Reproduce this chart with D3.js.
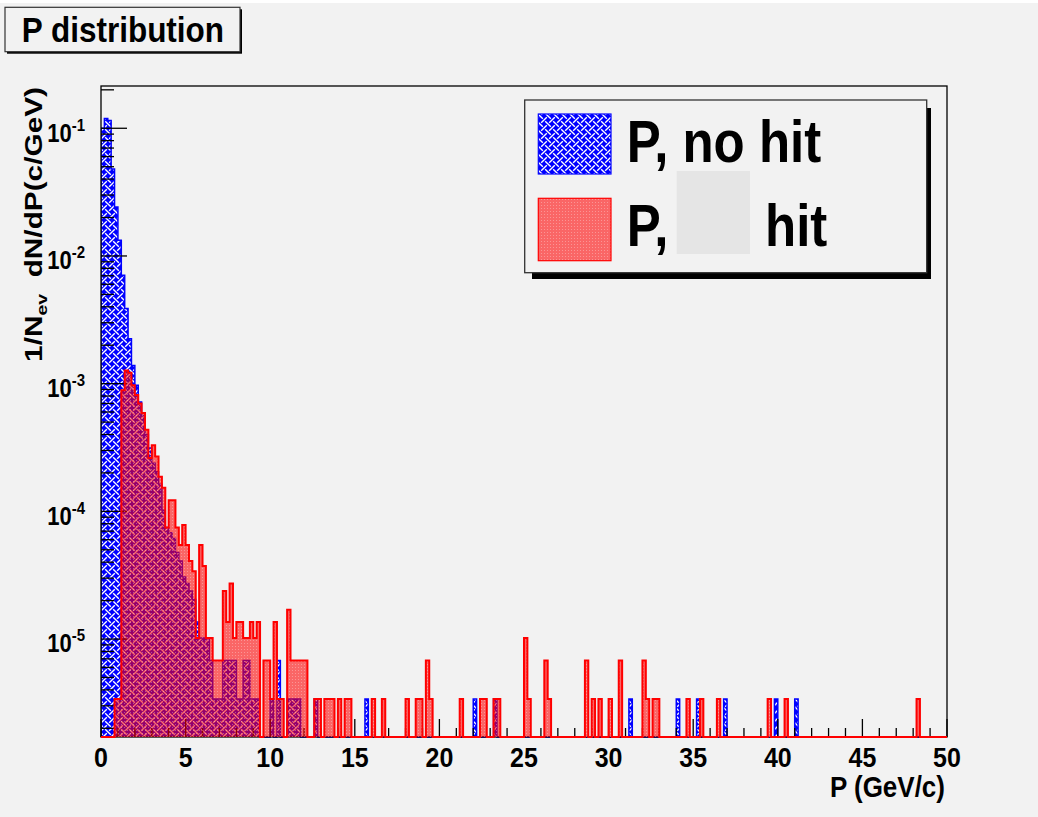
<!DOCTYPE html>
<html>
<head>
<meta charset="utf-8">
<script src="https://cdn.jsdelivr.net/npm/d3@7"></script>
<style>
html, body { margin: 0; padding: 0; background: #f2f2f2; }
svg { display: block; }
</style>
</head>
<body>
<svg id="chart" width="1038" height="817"></svg>
<script>
// ---------------- data ----------------
const binWidth = 0.2;                 // GeV per histogram bin
const xDomain = [0, 50];
const yDomain = [1.71e-6, 0.2143];

// [bin low edge (GeV), 1/Nev dN/dP]
const noHitBins = [
  [0.0, 0.10], [0.2, 0.119], [0.4, 0.115], [0.6, 0.048], [0.8, 0.0242],
  [1.0, 0.0133], [1.2, 0.00706], [1.4, 0.00387], [1.6, 0.00225], [1.8, 0.00139],
  [2.0, 0.00097], [2.2, 0.00072], [2.4, 5.6e-4], [2.6, 4.0e-4], [2.8, 3.13e-4],
  [3.0, 2.38e-4], [3.2, 2.04e-4], [3.4, 1.63e-4], [3.6, 1.02e-4], [3.8, 7.48e-5],
  [4.0, 6.8e-5], [4.2, 6.12e-5], [4.4, 4.76e-5], [4.6, 4.08e-5], [4.8, 3.06e-5],
  [5.0, 2.72e-5], [5.2, 2.38e-5], [5.4, 2.04e-5], [5.6, 1.36e-5], [5.8, 1.02e-5],
  [6.0, 1.02e-5], [6.2, 1.02e-5], [6.4, 6.8e-6], [6.6, 3.4e-6], [6.8, 3.4e-6],
  [7.0, 3.4e-6], [7.2, 6.8e-6], [7.4, 6.8e-6], [7.6, 6.8e-6], [7.8, 6.8e-6],
  [8.0, 3.4e-6], [8.2, 3.4e-6], [8.4, 6.8e-6], [8.6, 6.8e-6], [8.8, 3.4e-6],
  [9.0, 3.4e-6], [9.2, 3.4e-6], [10.0, 3.4e-6], [10.4, 6.8e-6], [11.0, 3.4e-6],
  [11.2, 3.4e-6], [11.4, 3.4e-6], [11.6, 3.4e-6], [12.6, 3.4e-6], [15.6, 3.4e-6],
  [22.0, 3.4e-6], [23.2, 3.4e-6], [31.2, 3.4e-6], [34.0, 3.4e-6], [35.2, 3.4e-6],
  [36.8, 3.4e-6], [39.8, 3.4e-6], [41.0, 3.4e-6]
];

const hitBins = [
  [0.8, 3.4e-6], [1.0, 3.4e-6], [1.2, 8.87e-4], [1.4, 1.27e-3], [1.6, 1.22e-3],
  [1.8, 9.72e-4], [2.0, 8.16e-4], [2.2, 7.0e-4], [2.4, 5.88e-4], [2.6, 4.35e-4],
  [2.8, 2.62e-4], [3.0, 3.3e-4], [3.2, 2.69e-4], [3.4, 1.87e-4], [3.6, 1.53e-4],
  [3.8, 7.48e-5], [4.0, 1.22e-4], [4.2, 1.22e-4], [4.4, 7.48e-5], [4.6, 5.44e-5],
  [4.8, 7.82e-5], [5.0, 5.44e-5], [5.2, 4.08e-5], [5.4, 3.4e-5], [5.6, 1.02e-5],
  [5.8, 5.44e-5], [6.0, 3.74e-5], [6.2, 1.02e-5], [6.4, 1.02e-5], [6.6, 6.8e-6],
  [6.8, 6.8e-6], [7.0, 6.8e-6], [7.2, 2.38e-5], [7.4, 1.36e-5], [7.6, 2.72e-5],
  [7.8, 1.02e-5], [8.0, 1.36e-5], [8.2, 1.36e-5], [8.4, 1.02e-5], [8.6, 1.02e-5],
  [8.8, 1.36e-5], [9.0, 1.02e-5], [9.2, 1.36e-5], [9.6, 6.8e-6], [9.8, 6.8e-6],
  [10.0, 3.4e-6], [10.2, 1.36e-5], [10.4, 3.4e-6], [10.6, 3.4e-6], [11.0, 1.7e-5],
  [11.2, 6.8e-6], [11.4, 6.8e-6], [11.6, 6.8e-6], [11.8, 6.8e-6], [12.0, 6.8e-6],
  [12.6, 3.4e-6], [12.8, 3.4e-6], [13.2, 3.4e-6], [13.4, 3.4e-6], [13.6, 3.4e-6],
  [14.0, 3.4e-6], [14.4, 3.4e-6], [14.6, 3.4e-6], [16.0, 3.4e-6], [16.6, 3.4e-6],
  [18.0, 3.4e-6], [18.6, 3.4e-6], [18.8, 3.4e-6], [19.2, 6.8e-6], [19.4, 3.4e-6],
  [21.2, 3.4e-6], [22.4, 3.4e-6], [22.6, 3.4e-6], [23.2, 3.4e-6], [23.4, 3.4e-6],
  [25.0, 1.02e-5], [25.2, 3.4e-6], [26.2, 6.8e-6], [26.4, 3.4e-6], [28.6, 6.8e-6],
  [29.0, 3.4e-6], [29.4, 3.4e-6], [30.0, 3.4e-6], [30.6, 6.8e-6], [32.0, 6.8e-6],
  [32.2, 3.4e-6], [32.6, 3.4e-6], [32.8, 3.4e-6], [34.6, 3.4e-6], [35.4, 3.4e-6],
  [36.4, 3.4e-6], [39.4, 3.4e-6], [40.4, 3.4e-6], [48.2, 3.4e-6]
];

const xMajorTicks = [0, 5, 10, 15, 20, 25, 30, 35, 40, 45, 50];
const xMinorTicks = d3.range(0, 51, 1);
const yLabelExponents = [-1, -2, -3, -4, -5];
const titleText = "P distribution";
const xTitle = "P (GeV/c)";
const legendLabels = ["P, no hit", "P,", "hit"];

// ---------------- layout ----------------
const W = 1038, H = 817;
const frame = { left: 101, right: 947, top: 86, bottom: 737 };
const FONT = "'Liberation Sans', Arial, Helvetica, sans-serif";

const svg = d3.select("#chart");
svg.append("rect").attr("width", W).attr("height", H).attr("fill", "#f2f2f2");
svg.append("rect").attr("width", W).attr("height", 3).attr("fill", "#ffffff");

const x = d3.scaleLinear().domain(xDomain).range([frame.left, frame.right]);
const y = d3.scaleLog().domain(yDomain).range([frame.bottom, frame.top]);

// ---------------- patterns ----------------
const defs = svg.append("defs");
const weave = defs.append("pattern").attr("id", "weave").attr("patternUnits", "userSpaceOnUse")
  .attr("width", 8).attr("height", 8);
weave.append("rect").attr("width", 8).attr("height", 8).attr("fill", "#0000ff");
weave.append("path")
  .attr("d", "M1.2,1.2 L6.8,6.8 M9,-1 L5.2,2.8 M2.8,5.2 L-1,9 M-1,1 L1,-1 M7,9 L9,7")
  .attr("stroke", "#ffffff").attr("stroke-width", 1.4).attr("fill", "none");

// red "fine dot" fill: half-covering red, with a sparse lighter dot grid
const dots = defs.append("pattern").attr("id", "dots").attr("patternUnits", "userSpaceOnUse")
  .attr("width", 3).attr("height", 3);
dots.append("rect").attr("width", 3).attr("height", 3).attr("fill", "#ff0000").attr("fill-opacity", 0.58);
dots.append("rect").attr("x", 1).attr("y", 1).attr("width", 1).attr("height", 1)
  .attr("fill", "#ffffff").attr("fill-opacity", 0.3);

defs.append("clipPath").attr("id", "plotclip").append("rect")
  .attr("x", frame.left).attr("y", frame.top)
  .attr("width", frame.right - frame.left).attr("height", frame.bottom - frame.top + 4);

// ---------------- histogram helper ----------------
function histPoints(pairs) {
  const byBin = new Map(pairs.map(([lo, v]) => [Math.round((lo - xDomain[0]) / binWidth), v]));
  const nBins = Math.round((xDomain[1] - xDomain[0]) / binWidth);
  const yb = y.range()[0];
  const pts = [[x(xDomain[0]), yb]];
  for (let k = 0; k < nBins; k++) {
    const v = byBin.get(k);
    const yy = v ? y(v) : yb;
    pts.push([x(xDomain[0] + k * binWidth), yy], [x(xDomain[0] + (k + 1) * binWidth), yy]);
  }
  pts.push([x(xDomain[1]), yb]);
  return pts;
}
const line = d3.line();

// ---------------- blue histogram (drawn first) ----------------
const plot = svg.append("g").attr("clip-path", "url(#plotclip)");
const bluePts = histPoints(noHitBins);
plot.append("path").attr("d", line(bluePts) + "Z").attr("fill", "url(#weave)").attr("stroke", "none");
plot.append("path").attr("d", line(bluePts)).attr("fill", "none")
  .attr("stroke", "#0000ff").attr("stroke-width", 1.5).attr("stroke-linejoin", "miter");

// ---------------- frame and ticks ----------------
const axes = svg.append("g").attr("stroke", "#000").attr("stroke-width", 1.3);
axes.append("rect").attr("x", frame.left).attr("y", frame.top)
  .attr("width", frame.right - frame.left).attr("height", frame.bottom - frame.top)
  .attr("fill", "none");
axes.selectAll("line.xminor").data(xMinorTicks).join("line")
  .attr("x1", d => x(d)).attr("x2", d => x(d))
  .attr("y1", frame.bottom).attr("y2", d => frame.bottom - (d % 5 === 0 ? 18 : 9));
const yTicks = [];
for (let e = -6; e <= 0; e++) {
  for (let m = 1; m <= 9; m++) {
    const v = m * Math.pow(10, e);
    if (v >= yDomain[0] && v <= yDomain[1]) yTicks.push({ v, major: m === 1 });
  }
}
axes.selectAll("line.ytick").data(yTicks).join("line")
  .attr("x1", frame.left).attr("x2", d => frame.left + (d.major ? 26 : 13))
  .attr("y1", d => y(d.v)).attr("y2", d => y(d.v));

// ---------------- red histogram (drawn on top) ----------------
const redPts = histPoints(hitBins);
const plot2 = svg.append("g").attr("clip-path", "url(#plotclip)");
plot2.append("path").attr("d", line(redPts) + "Z").attr("fill", "url(#dots)").attr("stroke", "none");
plot2.append("path").attr("d", line(redPts)).attr("fill", "none")
  .attr("stroke", "#ff0000").attr("stroke-width", 2).attr("stroke-linejoin", "miter");

// ---------------- text helper ----------------
function scaledText(parent, tx, ty, sx, sy, size, anchor, str) {
  const g = parent.append("g").attr("transform", `translate(${tx},${ty}) scale(${sx},${sy})`);
  const t = g.append("text").attr("x", 0).attr("y", 0)
    .attr("font-family", FONT).attr("font-weight", "bold").attr("font-size", size)
    .attr("text-anchor", anchor).attr("fill", "#000");
  if (str !== undefined) t.text(str);
  return t;
}

xMajorTicks.forEach(v => scaledText(svg, x(v), 767, 1, 1.12, 25, "middle", String(v)));
scaledText(svg, 945, 797, 1, 1.1, 26, "end", xTitle);

yLabelExponents.forEach(e => {
  const t = scaledText(svg, 85, y(Math.pow(10, e)) + 13.4, 1, 1.16, 22, "end");
  t.append("tspan").text("10");
  t.append("tspan").attr("font-size", 15).attr("dy", -9.5).text(String(e));
});

{
  const g = svg.append("g");
  const t = g.append("text").attr("font-family", FONT).attr("font-weight", "bold")
    .attr("font-size", 23).attr("text-anchor", "end").attr("fill", "#000");
  t.append("tspan").text("1/N");
  t.append("tspan").attr("font-size", 15).attr("dy", 5).text("ev");
  t.append("tspan").attr("dy", -5).text("\u00a0\u00a0dN/dP(c/GeV)");
  const len = t.node().getComputedTextLength();
  const sx = 275 / len;
  g.attr("transform", `translate(42,87) rotate(-90) scale(${sx},1)`);
}

// ---------------- title box ----------------
svg.append("rect").attr("x", 7).attr("y", 9.3).attr("width", 235).attr("height", 44.4).attr("fill", "#000");
svg.append("rect").attr("x", 5).attr("y", 7.3).attr("width", 235).attr("height", 44.4)
  .attr("fill", "#f2f2f2").attr("stroke", "#333").attr("stroke-width", 1.2);
scaledText(svg, 21.7, 41.7, 1, 1.1, 31.5, "start", titleText);

// ---------------- legend ----------------
svg.append("rect").attr("x", 532).attr("y", 108).attr("width", 399).attr("height", 171).attr("fill", "#000");
svg.append("rect").attr("x", 524.7).attr("y", 100).attr("width", 402).attr("height", 172.7)
  .attr("fill", "#f2f2f2").attr("stroke", "#333").attr("stroke-width", 1.3);
svg.append("rect").attr("x", 538.3).attr("y", 114).attr("width", 72.7).attr("height", 60)
  .attr("fill", "url(#weave)").attr("stroke", "#0000ff").attr("stroke-width", 1.2);
svg.append("rect").attr("x", 538.3).attr("y", 198.3).attr("width", 72.7).attr("height", 62.4)
  .attr("fill", "url(#dots)").attr("stroke", "#ff0000").attr("stroke-width", 1.2);
scaledText(svg, 626.7, 161.7, 1, 1.15, 51, "start", legendLabels[0]);
scaledText(svg, 626.7, 246, 1, 1.15, 51, "start", legendLabels[1]);
scaledText(svg, 765, 246, 1, 1.15, 51, "start", legendLabels[2]);
svg.append("rect").attr("x", 676.7).attr("y", 171).attr("width", 73.3).attr("height", 83)
  .attr("fill", "#e5e5e5");
</script>
</body>
</html>
